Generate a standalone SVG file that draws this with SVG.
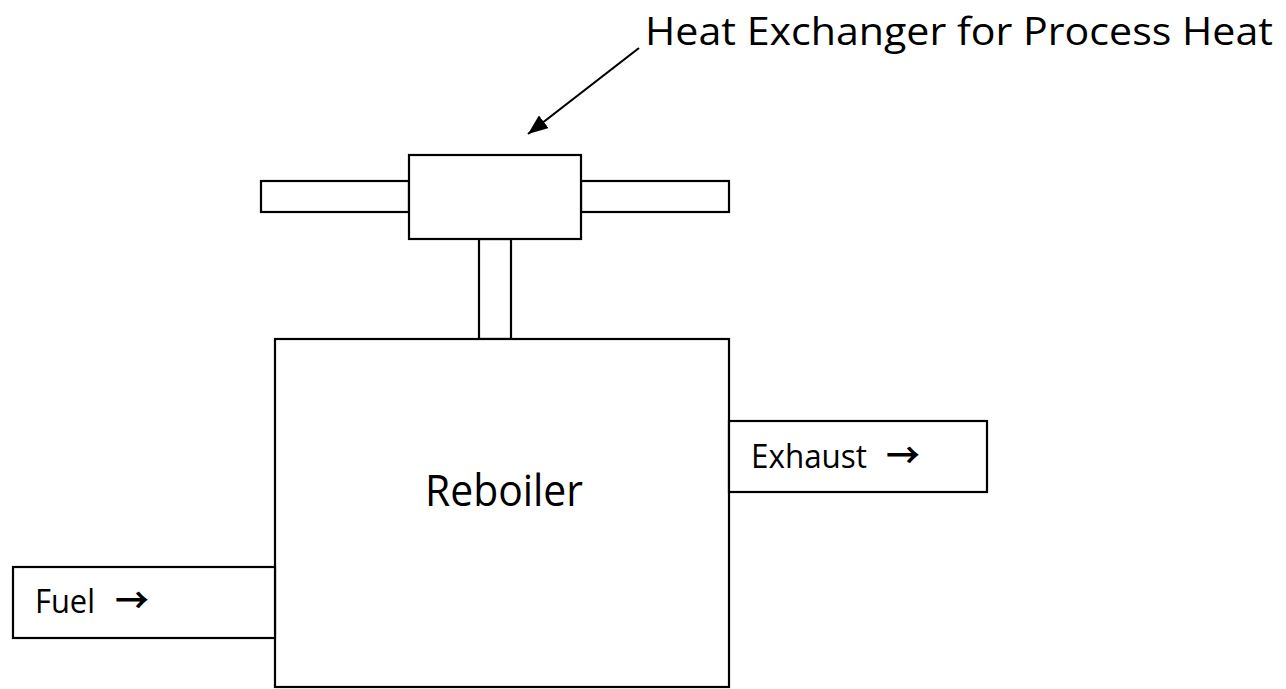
<svg xmlns="http://www.w3.org/2000/svg" width="1286" height="689" viewBox="0 0 1286 689">
<style>
.box{fill:#fff;stroke:#000;stroke-width:2.2}
.t{font-family:"Open Sans","Liberation Sans",sans-serif;fill:#000}
.ar{font-family:"Noto Sans CJK JP",sans-serif;font-weight:bold}
</style>
<defs>
<marker id="ah2" viewBox="0 0 20 16" refX="20" refY="8" markerWidth="20" markerHeight="16" orient="auto" markerUnits="userSpaceOnUse">
<path d="M0,0 L20,8 L0,16 z" fill="#000"/>
</marker>
</defs>
<rect width="1286" height="689" fill="#fff"/>
<g id="connectors">
<line x1="639" y1="48" x2="528" y2="134" stroke="#000" stroke-width="2.2" marker-end="url(#ah2)"/>
</g>
<g id="pipe-left"><rect class="box" x="261" y="181" width="148" height="31"/></g>
<g id="pipe-right"><rect class="box" x="581" y="181" width="148" height="31"/></g>
<g id="pipe-vertical"><rect class="box" x="479" y="239" width="32" height="100"/></g>
<g id="heat-exchanger"><rect class="box" x="409" y="155" width="172" height="84"/></g>
<g id="label-hx"><text class="t" x="645" y="45" font-size="39" textLength="628" lengthAdjust="spacingAndGlyphs">Heat Exchanger for Process Heat</text></g>
<g id="reboiler"><rect class="box" x="275" y="339" width="454" height="348"/>
<text class="t" x="425" y="506" font-size="43" textLength="158" lengthAdjust="spacingAndGlyphs">Reboiler</text></g>
<g id="fuel"><rect class="box" x="13" y="567" width="262" height="71"/>
<text class="t" x="35" y="613" font-size="32"><tspan textLength="60" lengthAdjust="spacingAndGlyphs">Fuel</tspan><tspan class="ar" x="115" font-size="34">→</tspan></text></g>
<g id="exhaust"><rect class="box" x="729" y="421" width="258" height="71"/>
<text class="t" x="751" y="468" font-size="32"><tspan textLength="116" lengthAdjust="spacingAndGlyphs">Exhaust</tspan><tspan class="ar" x="886" font-size="34">→</tspan></text></g>
</svg>
